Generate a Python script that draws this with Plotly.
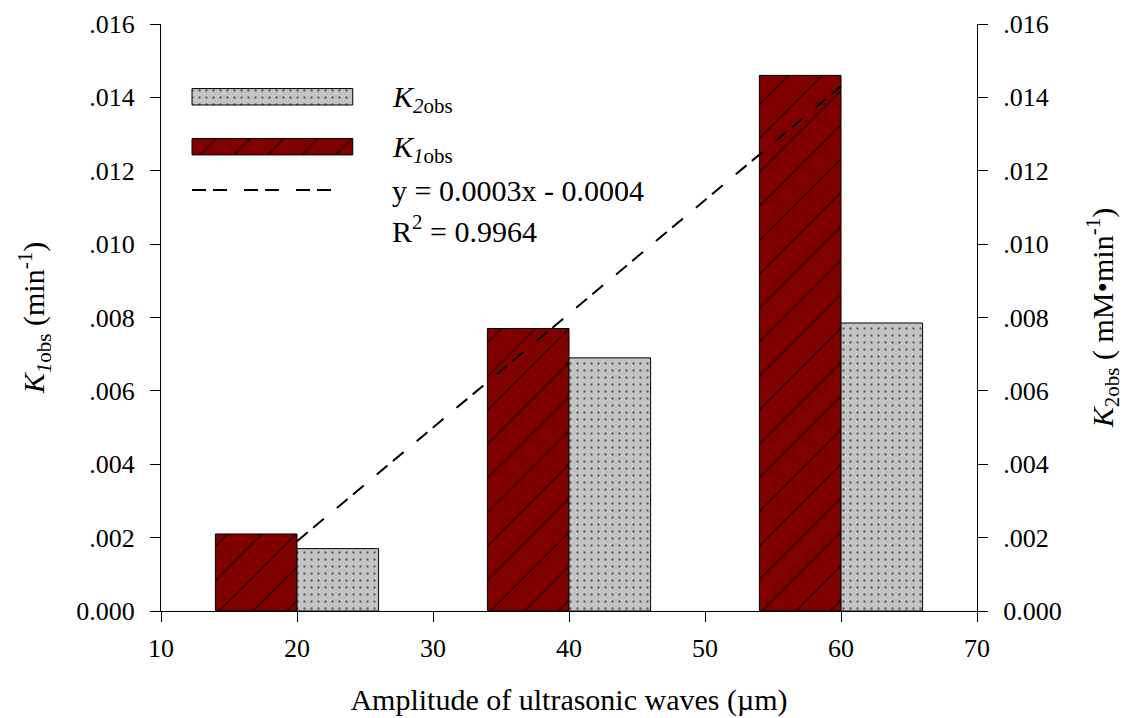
import plotly.graph_objects as go

# Ultrasonic amplitude (µm) and observed rate constants
amplitude = [20, 40, 60]
k1_obs = [0.0021, 0.0077, 0.0146]     # min^-1
k2_obs = [0.0017, 0.0069, 0.00785]    # mM·min^-1

# Linear fit of K1obs drawn between the first and last amplitude
fit_x = [20, 60]
fit_y = [0.0019, 0.0143]
fit_label = "y = 0.0003x - 0.0004"
r2_label = "R<sup>2</sup> = 0.9964"

x_ticks = [10, 20, 30, 40, 50, 60, 70]
y_ticks = [0, 0.002, 0.004, 0.006, 0.008, 0.010, 0.012, 0.014, 0.016]
y_ticktext = ["0.000", ".002", ".004", ".006", ".008", ".010", ".012", ".014", ".016"]

FONT = "Liberation Serif, Times New Roman, serif"
RED = "#800000"
GREY = "#c4c4c4"
BAR_W = 6

k1_pattern = dict(shape="/", fgcolor="black", bgcolor=RED, size=24, solidity=0.08, fillmode="overlay")
k2_pattern = dict(shape=".", fgcolor="black", bgcolor=GREY, size=7, solidity=0.09, fillmode="overlay")
dash = "14px,7px,14px,17px"

fig = go.Figure()

fig.add_trace(go.Bar(
    x=amplitude, y=k1_obs, width=BAR_W, offset=-BAR_W,
    marker=dict(color=RED, pattern=k1_pattern, line=dict(color="black", width=1)),
    xaxis="x", yaxis="y", showlegend=False,
))
fig.add_trace(go.Bar(
    x=amplitude, y=k2_obs, width=BAR_W, offset=0,
    marker=dict(color=GREY, pattern=k2_pattern, line=dict(color="black", width=1)),
    xaxis="x", yaxis="y2", showlegend=False,
))
fig.add_trace(go.Scatter(
    x=fit_x, y=fit_y, mode="lines",
    line=dict(color="black", width=2, dash=dash),
    xaxis="x", yaxis="y", showlegend=False,
))

# Hand-built legend on a hidden overlay axis spanning the plot area (0..1)
leg_x0, leg_len, leg_thick = 0.038, 0.197, 0.028
fig.add_trace(go.Bar(
    orientation="h", y=[0.876], x=[leg_len], base=[leg_x0], width=leg_thick,
    marker=dict(color=GREY, pattern=k2_pattern, line=dict(color="black", width=1)),
    xaxis="x3", yaxis="y3", showlegend=False, hoverinfo="skip",
))
fig.add_trace(go.Bar(
    orientation="h", y=[0.791], x=[leg_len], base=[leg_x0], width=leg_thick,
    marker=dict(color=RED, pattern=k1_pattern, line=dict(color="black", width=1)),
    xaxis="x3", yaxis="y3", showlegend=False, hoverinfo="skip",
))
fig.add_trace(go.Scatter(
    x=[leg_x0, 0.216], y=[0.717, 0.717], mode="lines",
    line=dict(color="black", width=2, dash=dash),
    xaxis="x3", yaxis="y3", showlegend=False, hoverinfo="skip",
))

leg_text_x = 0.281
annotations = [
    dict(text="<i>K</i><sub><i>2</i>obs</sub>", x=leg_text_x, y=0.872),
    dict(text="<i>K</i><sub><i>1</i>obs</sub>", x=leg_text_x, y=0.787),
    dict(text=fit_label, x=leg_text_x, y=0.717),
    dict(text=r2_label, x=leg_text_x, y=0.650),
]
for a in annotations:
    a.update(xref="paper", yref="paper", xanchor="left", yanchor="middle",
             showarrow=False, font=dict(family=FONT, size=30, color="black"))

axis_common = dict(
    showgrid=False, zeroline=False, showline=True, linecolor="black", linewidth=1,
    ticks="outside", ticklen=10, tickwidth=1, tickcolor="black", automargin=False,
    tickfont=dict(family=FONT, size=26, color="black"),
)

fig.update_layout(
    width=1124, height=718,
    margin=dict(l=161, r=147, t=24, b=107),
    paper_bgcolor="white", plot_bgcolor="white",
    barmode="overlay",
    font=dict(family=FONT, color="black"),
    xaxis=dict(
        range=[10, 70], tickvals=x_ticks, ticklabelstandoff=4, **axis_common,
        title=dict(text="Amplitude of ultrasonic waves (µm)",
                   font=dict(family=FONT, size=30, color="black"), standoff=26),
    ),
    yaxis=dict(
        range=[0, 0.016], tickvals=y_ticks, ticktext=y_ticktext, ticklabelstandoff=10,
        **axis_common,
        title=dict(text="<i>K</i><sub><i>1</i>obs</sub> (min<sup>-1</sup>)",
                   font=dict(family=FONT, size=30, color="black"), standoff=22),
    ),
    yaxis2=dict(
        range=[0, 0.016], tickvals=y_ticks, ticktext=y_ticktext, ticklabelstandoff=10,
        **axis_common,
        overlaying="y", side="right", anchor="x",
        title=dict(text="<i>K</i><sub>2obs</sub> ( mM•min<sup>-1</sup>)",
                   font=dict(family=FONT, size=30, color="black"), standoff=40),
    ),
    xaxis3=dict(range=[0, 1], overlaying="x", visible=False, fixedrange=True),
    yaxis3=dict(range=[0, 1], overlaying="y", visible=False, fixedrange=True),
    annotations=annotations,
)

fig.write_html("out.html")
